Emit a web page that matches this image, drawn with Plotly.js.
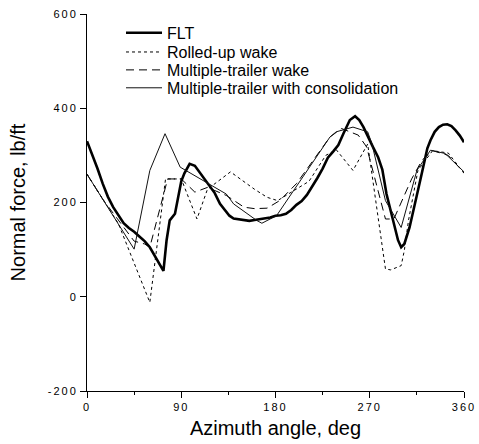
<!DOCTYPE html>
<html>
<head>
<meta charset="utf-8">
<script src="https://cdn.plot.ly/plotly-3.0.1.min.js"></script>
<style>
  html, body { margin: 0; padding: 0; background: #fff; }
  #chart { width: 479px; height: 444px; }
  .xtick text, .ytick text { letter-spacing: 2px; }
</style>
</head>
<body>
<div id="chart"></div>
<script>
// ---- data ----
const seriesNames = ["FLT", "Rolled-up wake", "Multiple-trailer wake", "Multiple-trailer with consolidation"];

const fltAzimuth = [0,5,10,15,20,25,30,35,40,45,50,55,60,65,70,73,76,79,84,87,90,93,98,103,109,115,122,127,132,136,140,145,150,155,160,165,170,175,180,185,190,195,200,205,210,215,220,225,230,235,240,245,251,256,260,264,268,273,278,282,286,290,293,297,300,303,308,312,315,318,321,325,328,332,336,340,344,348,352,356,360];
const fltForce   = [330,302,272,240,212,190,172,156,146,138,128,118,105,85,65,55,120,162,176,215,245,262,282,278,260,240,220,197,182,172,166,164,162,161,163,165,166,168,172,173,176,184,195,203,216,233,252,272,295,308,322,347,375,383,375,360,340,318,296,270,218,180,155,120,105,112,147,185,211,245,275,315,332,350,360,365,366,362,353,342,328];

const rolledAzimuth = [0,30,60,75,90,105,115,137,160,172,182,190,212,228,238,254,268,285,290,300,303,307,316,330,345,360];
const rolledForce   = [260,155,-12,250,250,165,228,265,228,211,204,215,245,300,312,268,324,59,57,66,98,162,268,310,305,262];

const trailerAzimuth = [0,15,45,55,60,77,90,103,115,133,150,160,172,184,200,232,243,259,267,285,293,310,320,330,345,360];
const trailerForce   = [260,207,118,112,105,250,250,222,232,215,190,187,188,204,240,339,357,343,318,165,165,250,290,310,300,263];

const consolAzimuth = [0,45,60,74.5,89,111,133,140,162,167,181,232,238,254,268,272,285,300,315,328,342,360];
const consolForce   = [260,101,268,346,275,247,218,197,162,156,172,339,350,360,350,325,204,147,268,311,304,265];

const xTickVals = [0, 90, 180, 270, 360];
const yTickVals = [-200, 0, 200, 400, 600];

// ---- chart ----
const FONT = "Liberation Sans, Arial, Helvetica, sans-serif";

const traces = [
  { x: fltAzimuth, y: fltForce, name: seriesNames[0], legend: "legend",
    mode: "lines", line: { color: "#000", width: 2.6, dash: "solid" } },
  { x: rolledAzimuth, y: rolledForce, name: seriesNames[1], legend: "legend2",
    mode: "lines", line: { color: "#000", width: 1, dash: "3px,3px" } },
  { x: trailerAzimuth, y: trailerForce, name: seriesNames[2], legend: "legend3",
    mode: "lines", line: { color: "#000", width: 1, dash: "8px,5px" } },
  { x: consolAzimuth, y: consolForce, name: seriesNames[3], legend: "legend4",
    mode: "lines", line: { color: "#111", width: 1, dash: "solid" } }
];

function leg(yc) {
  return { x: 0.0902, xanchor: "left", y: yc, yanchor: "middle",
           bgcolor: "rgba(0,0,0,0)", borderwidth: 0, itemwidth: 36,
           font: { family: FONT, size: 16, color: "#000" } };
}

const layout = {
  width: 479, height: 444,
  margin: { l: 87, r: 15, t: 14, b: 53, pad: 0 },
  paper_bgcolor: "#fff", plot_bgcolor: "#fff",
  showlegend: true,
  legend: leg(0.9500), legend2: leg(0.8990), legend3: leg(0.8515), legend4: leg(0.8040),
  xaxis: {
    range: [0, 360], tickvals: xTickVals, ticktext: xTickVals.map(String),
    showgrid: false, zeroline: false, showline: true, linecolor: "#000", linewidth: 1,
    ticks: "outside", ticklen: 6, tickwidth: 1, tickcolor: "#000",
    minor: { tickvals: [45, 135, 225, 315], ticks: "outside", ticklen: 3, tickcolor: "#000", tickwidth: 1 },
    tickfont: { family: FONT, size: 11, color: "#000" },
    title: { text: "Azimuth angle, deg", font: { family: FONT, size: 20, color: "#000" }, standoff: 8 },
    automargin: false
  },
  yaxis: {
    range: [-200, 600], tickvals: yTickVals, ticktext: yTickVals.map(String),
    showgrid: false, zeroline: false, showline: true, linecolor: "#000", linewidth: 1,
    ticks: "outside", ticklen: 6, tickwidth: 1, tickcolor: "#000",
    tickfont: { family: FONT, size: 11, color: "#000" },
    title: { text: "Normal force, lb/ft", font: { family: FONT, size: 20, color: "#000" }, standoff: 16 },
    automargin: false
  }
};

Plotly.newPlot("chart", traces, layout, { staticPlot: true, displayModeBar: false });
</script>
</body>
</html>
